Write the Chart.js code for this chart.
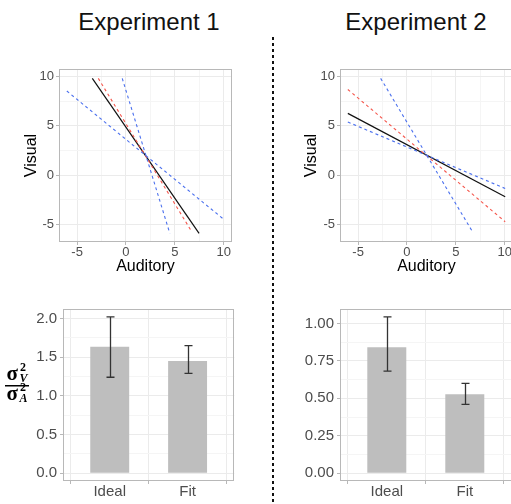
<!DOCTYPE html>
<html>
<head>
<meta charset="utf-8">
<script src="https://cdn.jsdelivr.net/npm/chart.js@4.4.1/dist/chart.umd.min.js"></script>
<style>
  html, body { margin: 0; padding: 0; width: 511px; height: 504px; overflow: hidden; background: #fff; }
  .title { position: absolute; top: 10px; font: 24px/24px "Liberation Sans", Arial, sans-serif; color: #111; white-space: nowrap; transform: translateX(-50%); }
  canvas { position: absolute; }
  #divider { position: absolute; left: 272px; top: 37px; width: 2px; height: 467px;
             background: repeating-linear-gradient(to bottom, #111 0 3px, transparent 3px 6px); }
</style>
</head>
<body>
<div class="title" style="left:149px">Experiment 1</div>
<div class="title" style="left:416px">Experiment 2</div>
<div id="divider"></div>
<canvas id="lines1" width="255" height="250" style="left:0;top:40px"></canvas>
<canvas id="lines2" width="240" height="250" style="left:280px;top:40px"></canvas>
<canvas id="ratio1" width="255" height="214" style="left:0;top:290px"></canvas>
<canvas id="ratio2" width="240" height="214" style="left:280px;top:290px"></canvas>
<script>
// bar panels
const CATEGORIES = ['Ideal', 'Fit'];
const EXP1_RATIO = [1.634, 1.449];
const EXP1_RATIO_LOW = [1.239, 1.290];
const EXP1_RATIO_HIGH = [2.020, 1.647];
const EXP2_RATIO = [0.840, 0.527];
const EXP2_RATIO_LOW = [0.682, 0.460];
const EXP2_RATIO_HIGH = [1.044, 0.600];

// tick values
const LINE_TICKS = [-5, 0, 5, 10];
const EXP1_RATIO_TICKS = [0, 0.5, 1, 1.5, 2];
const EXP2_RATIO_TICKS = [0, 0.25, 0.5, 0.75, 1];

// line panels: end points (Auditory, Visual)
const EXP1_FIT_X = [-3.44, 7.48],  EXP1_FIT_Y = [9.83, -5.93];
const EXP1_IDEAL_X = [-2.83, 6.70], EXP1_IDEAL_Y = [9.83, -5.70];
const EXP1_STEEP_X = [-0.38, 4.49], EXP1_STEEP_Y = [9.83, -5.93];
const EXP1_FLAT_X = [-6.05, 10.10], EXP1_FLAT_Y = [8.54, -4.57];

const EXP2_FIT_X = [-6.05, 10.05],  EXP2_FIT_Y = [6.27, -2.20];
const EXP2_IDEAL_X = [-6.05, 10.05], EXP2_IDEAL_Y = [8.70, -4.74];
const EXP2_STEEP_X = [-2.69, 6.71], EXP2_STEEP_Y = [9.83, -5.76];
const EXP2_FLAT_X = [-6.05, 10.05], EXP2_FLAT_Y = [5.39, -1.36];

Chart.defaults.font.family = '"Liberation Sans", Arial, sans-serif';
Chart.defaults.animation = false;

const MAJOR = '#ebebeb', MINOR = '#f5f5f5', FRAME = '#b8b8b8', TICK_TXT = '#4d4d4d';
const RED = '#f5574d', BLUE = '#4b70ee';

// major ticks plus the half-way minor ticks inside the range
function withMinor(major, min, max) {
    const step = major[1] - major[0];
    const out = major.filter(v => v >= min && v <= max).map(v => ({ value: v }));
    for (let v = major[0] - step / 2; v <= max; v += step) {
        if (v >= min && !major.includes(v)) out.push({ value: v, minor: true });
    }
    return out.sort((a, b) => a.value - b.value);
}

function gridOpts() {
    return {
        color: c => (c.tick && c.tick.minor ? MINOR : MAJOR),
        tickColor: c => (c.tick && c.tick.minor ? 'rgba(0,0,0,0)' : FRAME),
        lineWidth: 1,
        tickLength: 3
    };
}

const framePlugin = {
    id: 'frame',
    afterDatasetsDraw(chart) {
        const a = chart.chartArea, ctx = chart.ctx;
        ctx.save();
        ctx.strokeStyle = FRAME;
        ctx.lineWidth = 1;
        ctx.strokeRect(Math.round(a.left) + 0.5, Math.round(a.top) + 0.5,
                       Math.round(a.width) - 1, Math.round(a.height) - 1);
        ctx.restore();
    }
};

function lineSet(xs, ys, color, dashed) {
    return {
        data: xs.map((x, i) => ({ x: x, y: ys[i] })),
        borderColor: color,
        borderWidth: dashed ? 1.1 : 1.2,
        borderDash: dashed ? [3, 3] : [],
        showLine: true,
        pointRadius: 0,
        fill: false
    };
}

function makeLineChart(id, sets, padRight, yWidth) {
    return new Chart(document.getElementById(id), {
        type: 'scatter',
        data: { datasets: sets },
        options: {
            responsive: false,
            layout: { padding: { top: 29, right: padRight, left: 0, bottom: 0 } },
            plugins: { legend: { display: false }, tooltip: { enabled: false } },
            scales: {
                x: {
                    type: 'linear', min: -6.85, max: 10.85, bounds: 'data',
                    afterBuildTicks: s => { s.ticks = withMinor(LINE_TICKS, -6.85, 10.85); },
                    afterFit: s => { s.height = 48; },
                    ticks: { callback: (v, i, t) => (t[i].minor ? '' : v), color: TICK_TXT,
                             font: { size: 13, lineHeight: 1 }, padding: 1, autoSkip: false, maxRotation: 0 },
                    grid: gridOpts(),
                    border: { display: false },
                    title: { display: true, text: 'Auditory', color: '#000',
                             font: { size: 16 }, padding: { top: 0, bottom: 14 } }
                },
                y: {
                    type: 'linear', min: -6.8, max: 10.78, bounds: 'data',
                    afterBuildTicks: s => { s.ticks = withMinor(LINE_TICKS, -6.8, 10.78); },
                    afterFit: s => { s.width = yWidth; },
                    ticks: { callback: (v, i, t) => (t[i].minor ? '' : v), color: TICK_TXT,
                             font: { size: 13, lineHeight: 1 }, padding: 2, autoSkip: false },
                    grid: gridOpts(),
                    border: { display: false },
                    title: { display: true, text: 'Visual', color: '#000',
                             font: { size: 16 }, padding: { top: 22, bottom: 0 } }
                }
            }
        },
        plugins: [framePlugin]
    });
}

makeLineChart('lines1', [
    lineSet(EXP1_FLAT_X, EXP1_FLAT_Y, BLUE, true),
    lineSet(EXP1_STEEP_X, EXP1_STEEP_Y, BLUE, true),
    lineSet(EXP1_IDEAL_X, EXP1_IDEAL_Y, RED, true),
    lineSet(EXP1_FIT_X, EXP1_FIT_Y, '#111', false)
], 23, 59);

makeLineChart('lines2', [
    lineSet(EXP2_FLAT_X, EXP2_FLAT_Y, BLUE, true),
    lineSet(EXP2_STEEP_X, EXP2_STEEP_Y, BLUE, true),
    lineSet(EXP2_IDEAL_X, EXP2_IDEAL_Y, RED, true),
    lineSet(EXP2_FIT_X, EXP2_FIT_Y, '#111', false)
], 7, 60);

// error bars drawn through the chart's scales
function errorBarPlugin(low, high) {
    return {
        id: 'errorBars',
        afterDatasetsDraw(chart) {
            const ctx = chart.ctx, xs = chart.scales.x, ys = chart.scales.y;
            ctx.save();
            ctx.strokeStyle = '#333';
            ctx.lineWidth = 1.3;
            low.forEach((lo, i) => {
                const x = Math.round(xs.getPixelForValue(i + 1)) + 0.5;
                const y1 = ys.getPixelForValue(lo), y2 = ys.getPixelForValue(high[i]);
                ctx.beginPath();
                ctx.moveTo(x, y1); ctx.lineTo(x, y2);
                ctx.moveTo(x - 4, y1); ctx.lineTo(x + 4, y1);
                ctx.moveTo(x - 4, y2); ctx.lineTo(x + 4, y2);
                ctx.stroke();
            });
            ctx.restore();
        }
    };
}

// sigma_V^2 / sigma_A^2 label left of the first bar panel
const sigmaLabel = {
    id: 'sigmaLabel',
    afterDraw(chart) {
        const ctx = chart.ctx;
        ctx.save();
        ctx.fillStyle = '#000';
        ctx.textBaseline = 'alphabetic';
        ctx.textAlign = 'left';
        const serif = '"Liberation Serif", "DejaVu Serif", serif';
        ctx.font = 'bold 21px ' + serif;
        ctx.fillText('σ', 6.5, 90);
        ctx.fillText('σ', 6.5, 110);
        ctx.font = 'bold 12px ' + serif;
        ctx.fillText('2', 20, 80.5);
        ctx.fillText('2', 20, 101);
        ctx.font = 'italic bold 12px ' + serif;
        ctx.fillText('V', 19.5, 91.5);
        ctx.fillText('A', 19.5, 111.5);
        ctx.fillRect(5, 95, 24, 1.5);
        ctx.restore();
    }
};

function makeBarChart(id, values, low, high, ticks, yMin, yMax, digits, yWidth, padRight, extra) {
    return new Chart(document.getElementById(id), {
        type: 'bar',
        data: {
            datasets: [{
                data: values.map((v, i) => ({ x: i + 1, y: v })),
                backgroundColor: '#bebebe',
                borderWidth: 0,
                barPercentage: 0.5,
                categoryPercentage: 1
            }]
        },
        options: {
            responsive: false,
            layout: { padding: { top: 19, right: padRight, left: 0, bottom: 0 } },
            plugins: { legend: { display: false }, tooltip: { enabled: false } },
            scales: {
                x: {
                    type: 'linear', min: 0.4, max: 2.6, bounds: 'data', offset: false,
                    afterBuildTicks: s => { s.ticks = CATEGORIES.map((c, i) => ({ value: i + 1 })); },
                    afterFit: s => { s.height = 23; },
                    ticks: { callback: v => CATEGORIES[v - 1], color: TICK_TXT,
                             font: { size: 15, lineHeight: 1 }, padding: 0, autoSkip: false, maxRotation: 0 },
                    grid: gridOpts(),
                    border: { display: false }
                },
                y: {
                    type: 'linear', min: yMin, max: yMax, bounds: 'data',
                    afterBuildTicks: s => { s.ticks = withMinor(ticks, yMin, yMax); },
                    afterFit: s => { s.width = yWidth; },
                    ticks: { callback: (v, i, t) => (t[i].minor ? '' : v.toFixed(digits)), color: TICK_TXT,
                             font: { size: 15, lineHeight: 1 }, padding: 3, autoSkip: false },
                    grid: gridOpts(),
                    border: { display: false }
                }
            }
        },
        plugins: [errorBarPlugin(low, high), framePlugin].concat(extra)
    });
}

makeBarChart('ratio1', EXP1_RATIO, EXP1_RATIO_LOW, EXP1_RATIO_HIGH, EXP1_RATIO_TICKS,
             -0.101, 2.121, 1, 63, 20.7, [sigmaLabel]);
makeBarChart('ratio2', EXP2_RATIO, EXP2_RATIO_LOW, EXP2_RATIO_HIGH, EXP2_RATIO_TICKS,
             -0.052, 1.096, 2, 60, 8.4, []);
</script>
</body>
</html>
